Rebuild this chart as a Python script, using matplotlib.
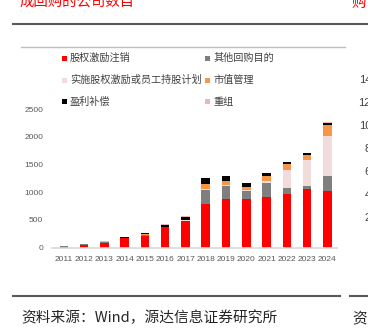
import matplotlib
matplotlib.use("Agg")
import matplotlib.pyplot as plt
from matplotlib.patches import Rectangle
from matplotlib.lines import Line2D
import numpy as np

plt.rcParams['font.family'] = ['Noto Sans CJK SC', 'DejaVu Sans']

years = ['2011', '2012', '2013', '2014', '2015', '2016', '2017',
         '2018', '2019', '2020', '2021', '2022', '2023', '2024']

series_names = ['股权激励注销', '其他回购目的', '实施股权激励或员工持股计划',
                '市值管理', '盈利补偿', '重组']

equity_cancel = [5, 45, 80, 170, 215, 365, 480, 795, 885, 875, 920, 970, 1065, 1020]
other_purpose = [20, 15, 20, 5, 10, 10, 10, 245, 235, 145, 250, 110, 55, 280]
esop_plan     = [0, 0, 0, 0, 0, 0, 5, 20, 20, 20, 30, 325, 465, 715]
market_value  = [0, 0, 0, 0, 20, 5, 10, 95, 65, 50, 100, 100, 90, 205]
profit_comp   = [0, 0, 0, 10, 15, 30, 50, 100, 85, 70, 50, 35, 35, 35]
restructure   = [0, 10, 20, 10, 10, 10, 20, 10, 10, 10, 5, 5, 5, 5]

y_ticks = [0, 500, 1000, 1500, 2000, 2500]
side_ticks = ['14', '12', '10', '8', '6', '4', '2']

colors = ['#FF0000', '#7F7F7F', '#F2DCDB', '#F79646', '#000000', '#E6B9B8']
series = [equity_cancel, other_purpose, esop_plan, market_value, profit_comp, restructure]

W, H = 368, 332
fig = plt.figure(figsize=(W / 100, H / 100), dpi=100)

def fx(px):
    return px / W

def fy(py):
    return 1 - py / H

ax = fig.add_axes([fx(51.7), fy(247.7), fx(336.7) - fx(51.7), fy(109.2) - fy(247.7)])

x = np.arange(len(years))
bottom = np.zeros(len(years))
for vals, c in zip(series, colors):
    v = np.array(vals, dtype=float)
    ax.bar(x, v, width=0.42, bottom=bottom, color=c, linewidth=0)
    bottom += v

ax.set_xlim(-0.6, len(years) - 1 + 0.46)
ax.set_ylim(0, 2500)
ax.set_yticks(y_ticks)
ax.set_yticklabels([str(t) for t in y_ticks])
ax.set_xticks(x)
ax.set_xticklabels(years)
for lab in ax.get_yticklabels() + ax.get_xticklabels():
    lab.set_fontfamily(['Liberation Sans', 'DejaVu Sans'])
    lab.set_fontsize(6.0)
    lab.set_color('#595959')
ax.tick_params(axis='both', length=0)
ax.tick_params(axis='y', pad=6)
ax.tick_params(axis='x', pad=6)
for s in ['top', 'right', 'left']:
    ax.spines[s].set_visible(False)
ax.spines['bottom'].set_color('#D9D9D9')
ax.spines['bottom'].set_linewidth(1.2)
ax.patch.set_alpha(0)

# legend (manual)
leg_cols = [62, 205]
leg_rows = [58, 80, 102]
for i, (name, c) in enumerate(zip(series_names, colors)):
    cx = leg_cols[i % 2]
    cy = leg_rows[i // 2]
    fig.patches.append(Rectangle((fx(cx), fy(cy + 2.5)), fx(5), 5 / H, transform=fig.transFigure,
                                 facecolor=c, edgecolor='none'))
    fig.text(fx(cx + 8), fy(cy), name, fontsize=7.3, color='#404040', va='center', ha='left')

# page decorations
fig.lines.append(Line2D([fx(13), fx(368)], [fy(24), fy(24)], transform=fig.transFigure,
                        color='#595959', linewidth=1.5))
fig.lines.append(Line2D([fx(21), fx(345)], [fy(47.3), fy(47.3)], transform=fig.transFigure,
                        color='#BFBFBF', linewidth=1.0))
fig.lines.append(Line2D([fx(13), fx(340)], [fy(296), fy(296)], transform=fig.transFigure,
                        color='#595959', linewidth=1.5))
fig.lines.append(Line2D([fx(350), fx(368)], [fy(296), fy(296)], transform=fig.transFigure,
                        color='#595959', linewidth=1.5))

fig.text(fx(20), fy(10), '成回购的公司数目', fontsize=10.4, color='#FF0000', ha='left', va='bottom')
fig.text(fx(351), fy(10), '购', fontsize=10.4, color='#FF0000', ha='left', va='bottom')

fig.text(fx(21), fy(318), '资料来源：Wind，源达信息证券研究所', fontsize=10.6, color='#262626',
         ha='left', va='center')
fig.text(fx(352), fy(318), '资', fontsize=10.6, color='#262626', ha='left', va='center')

side_y = [80, 102.7, 125.7, 149, 171.7, 195, 217.7]
for lab, py in zip(side_ticks, side_y):
    fig.text(fx(371), fy(py), lab, fontsize=8, color='#404040', ha='right', va='center',
             family=['Liberation Sans', 'DejaVu Sans'])

fig.savefig('out.png', dpi=100)
